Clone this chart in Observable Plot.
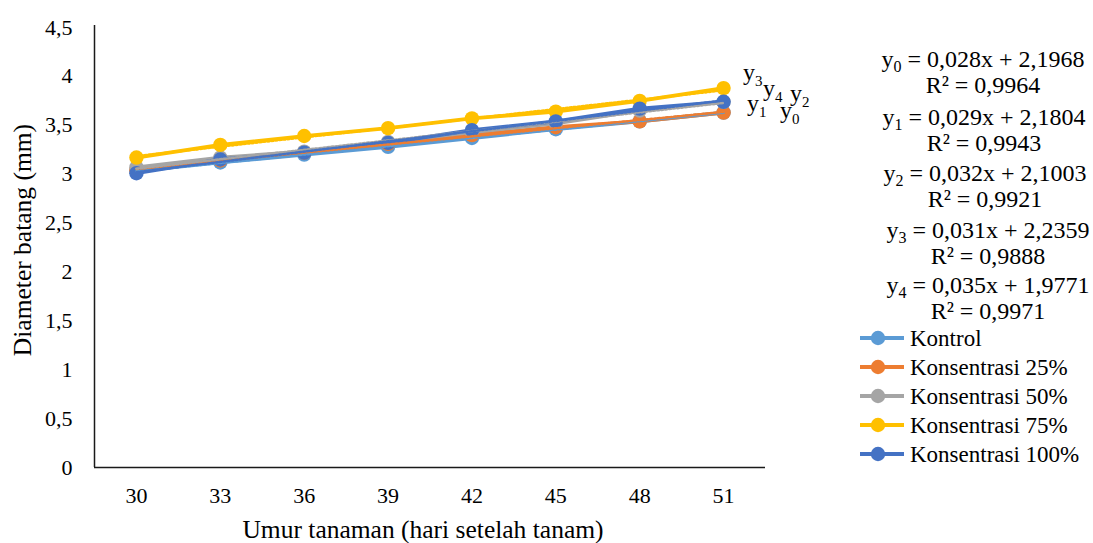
<!DOCTYPE html>
<html><head><meta charset="utf-8">
<script src="https://cdn.jsdelivr.net/npm/d3@7"></script>
<script src="https://cdn.jsdelivr.net/npm/@observablehq/plot@0.6"></script>
<style>body{margin:0;background:#fff;} #chart{width:1093px;height:543px;}</style>
</head><body><div id="chart"></div>
<script>
// ---- data ----
const days = [30, 33, 36, 39, 42, 45, 48, 51];
const seriesNames = ["Kontrol", "Konsentrasi 25%", "Konsentrasi 50%", "Konsentrasi 75%", "Konsentrasi 100%"];
const kontrol = [3.03, 3.12, 3.20, 3.28, 3.37, 3.46, 3.54, 3.63];
const k25     = [3.04, 3.14, 3.22, 3.31, 3.40, 3.48, 3.54, 3.63];
const k50     = [3.07, 3.17, 3.23, 3.33, 3.43, 3.52, 3.65, 3.74];
const k75     = [3.17, 3.30, 3.39, 3.47, 3.57, 3.64, 3.75, 3.88];
const k100    = [3.01, 3.15, 3.22, 3.32, 3.45, 3.54, 3.67, 3.74];
const seriesValues = [kontrol, k25, k50, k75, k100];
const yTicks = [0, 0.5, 1, 1.5, 2, 2.5, 3, 3.5, 4, 4.5];
const eqSubs = ["0", "1", "2", "3", "4"];
const eqSlopes = ["0,028", "0,029", "0,032", "0,031", "0,035"];
const eqIntercepts = ["2,1968", "2,1804", "2,1003", "2,2359", "1,9771"];
const r2Values = ["0,9964", "0,9943", "0,9921", "0,9888", "0,9971"];
const xTitle = "Umur tanaman (hari setelah tanam)";
const yTitle = "Diameter batang (mm)";

// ---- style ----
const colors = ["#5B9BD5", "#ED7D31", "#A5A5A5", "#FFC000", "#4472C4"];
const font = "Liberation Serif, Times New Roman, serif";

const data = seriesNames.flatMap((s, i) => days.map((d, j) => ({series: s, day: d, value: seriesValues[i][j]})));

const seriesMarks = seriesNames.flatMap((s, i) => {
  const sd = data.filter(d => d.series === s);
  return [
    Plot.line(sd, {x: "day", y: "value", stroke: colors[i], strokeWidth: 3.8}),
    Plot.dot(sd, {x: "day", y: "value", fill: colors[i], r: 7.2})
  ];
});
const trendMarks = seriesNames.map((s, i) =>
  Plot.linearRegressionY(data.filter(d => d.series === s), {x: "day", y: "value", stroke: colors[i], ci: 0, strokeWidth: 2.5, strokeDasharray: "2,2"})
);

const plot = Plot.plot({
  width: 1093, height: 543,
  marginLeft: 94, marginRight: 328, marginTop: 27, marginBottom: 76,
  style: {fontFamily: font, fontSize: "22px", color: "#000", background: "#fff", overflow: "visible"},
  x: {domain: [28.5, 52.5]},
  y: {domain: [0, 4.5]},
  marks: [
    Plot.axisY(yTicks, {tickSize: 0, tickPadding: 22, tickFormat: d => String(d).replace(".", ","), fontSize: 22, label: null}),
    Plot.axisX(days, {tickSize: 0, tickPadding: 20, fontSize: 22, label: null}),
    ...seriesMarks,
    ...trendMarks,
    Plot.ruleY([0], {stroke: "#1a1a1a", strokeWidth: 1.5}),
    Plot.ruleX([28.5], {y1: 0, y2: 4.52, stroke: "#1a1a1a", strokeWidth: 1.5})
  ]
});
document.getElementById("chart").appendChild(plot);

const svg = d3.select(plot);
const xs = plot.scale("x"), ys = plot.scale("y");

const addText = (x, y, size, anchor) => svg.append("text").attr("x", x).attr("y", y)
  .attr("text-anchor", anchor).attr("font-family", font).attr("font-size", size).attr("fill", "#000");

// axis titles
addText(423, 538, 25.5, "middle").text(xTitle);
svg.append("text").attr("transform", "translate(31,240) rotate(-90)").attr("text-anchor", "middle")
  .attr("font-family", font).attr("font-size", 25.5).attr("fill", "#000").text(yTitle);

// end-of-line trendline labels
const labelOffsets = [[57, 6], [24, -1], [67, 0], [20, -8], [40, -5]];
seriesNames.forEach((s, i) => {
  const last = seriesValues[i][seriesValues[i].length - 1];
  const t = addText(xs.apply(days[days.length - 1]) + labelOffsets[i][0], ys.apply(last) + labelOffsets[i][1], 24, "start");
  t.append("tspan").text("y");
  t.append("tspan").attr("dy", 6).attr("font-size", 15).text(eqSubs[i]);
});

// equations
const eqCenters = [983, 984, 985, 988, 988];
const eqBase = [67, 125, 181, 238, 293];
seriesNames.forEach((s, i) => {
  const t = addText(eqCenters[i], eqBase[i], 24, "middle");
  t.append("tspan").text("y");
  t.append("tspan").attr("dy", 5).attr("font-size", 16).text(eqSubs[i]);
  t.append("tspan").attr("dy", -5).text(` = ${eqSlopes[i]}x + ${eqIntercepts[i]}`);
  addText(eqCenters[i], eqBase[i] + 26, 24, "middle").text(`R² = ${r2Values[i]}`);
});

// legend
seriesNames.forEach((s, i) => {
  const cy = 338 + i * 29;
  svg.append("line").attr("x1", 860).attr("x2", 904).attr("y1", cy).attr("y2", cy)
    .attr("stroke", colors[i]).attr("stroke-width", 3.8);
  svg.append("circle").attr("cx", 878).attr("cy", cy).attr("r", 7.2).attr("fill", colors[i]);
  addText(910, cy + 8, 23, "start").text(s);
});
</script>
</body></html>
